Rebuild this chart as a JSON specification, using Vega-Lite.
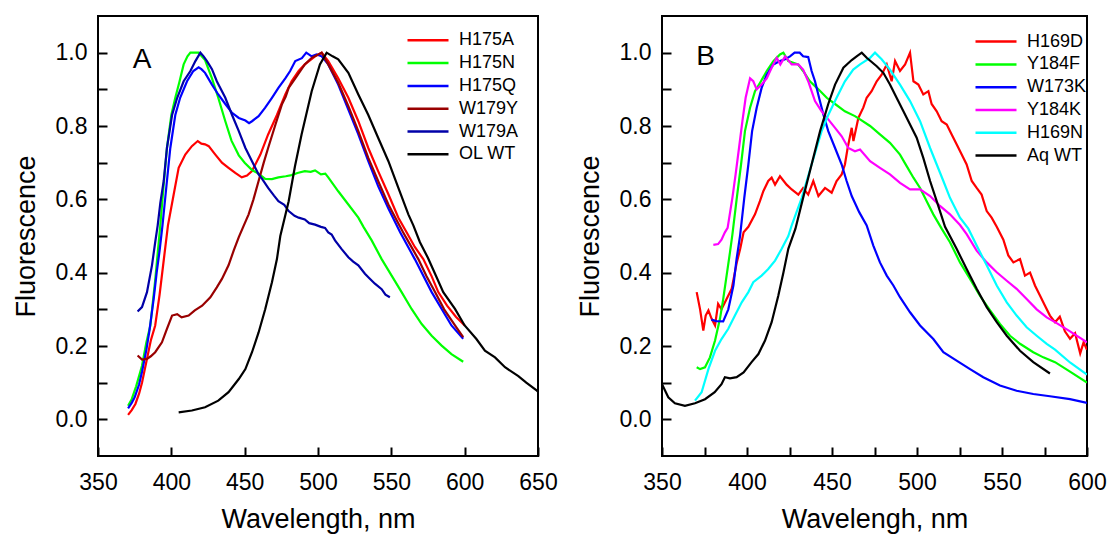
{
"$schema":"https://vega.github.io/schema/vega-lite/v6.json",
"background":"white",
"padding":{"left":11,"top":15,"right":2,"bottom":2},
"config":{
 "font":"Liberation Sans",
 "view":{"stroke":"black","strokeWidth":2},
 "axis":{"domain":false,"ticks":true,"tickSize":-9,"tickColor":"#000000","tickOpacity":1,"tickWidth":2,"grid":false,"labelFlush":false,"labelOverlap":false,"labelFont":"Liberation Sans","labelFontSize":23,"labelColor":"black","titleFont":"Liberation Sans","titleFontSize":27,"titleFontWeight":"normal","titleColor":"black"},
 "axisX":{"labelPadding":24,"titlePadding":12},
 "axisY":{"labelPadding":20,"titlePadding":15},
 "legend":{"title":null,"orient":"none","symbolType":"stroke","symbolSize":1681,"symbolStrokeWidth":2.5,"clipHeight":18,"labelFont":"Liberation Sans","labelFontSize":18,"labelColor":"black","rowPadding":4.8,"labelOffset":9,"padding":0}
},
"datasets":{
"A":[
{"s":"H175A","w":370.5,"f":0.012},{"s":"H175A","w":373,"f":0.025},{"s":"H175A","w":375.5,"f":0.042},{"s":"H175A","w":378,"f":0.07},{"s":"H175A","w":380,"f":0.10},{"s":"H175A","w":383.4,"f":0.165},{"s":"H175A","w":386,"f":0.215},{"s":"H175A","w":389,"f":0.256},{"s":"H175A","w":392,"f":0.34},{"s":"H175A","w":395,"f":0.44},{"s":"H175A","w":397.7,"f":0.529},{"s":"H175A","w":401.6,"f":0.613},{"s":"H175A","w":405,"f":0.686},{"s":"H175A","w":409.5,"f":0.722},{"s":"H175A","w":414,"f":0.745},{"s":"H175A","w":418,"f":0.759},{"s":"H175A","w":420.5,"f":0.752},{"s":"H175A","w":423,"f":0.75},{"s":"H175A","w":425.5,"f":0.745},{"s":"H175A","w":430,"f":0.722},{"s":"H175A","w":434.5,"f":0.70},{"s":"H175A","w":439,"f":0.686},{"s":"H175A","w":443.6,"f":0.672},{"s":"H175A","w":448,"f":0.66},{"s":"H175A","w":451.6,"f":0.665},{"s":"H175A","w":455,"f":0.677},{"s":"H175A","w":460.7,"f":0.722},{"s":"H175A","w":466,"f":0.777},{"s":"H175A","w":472,"f":0.83},{"s":"H175A","w":477.7,"f":0.886},{"s":"H175A","w":482,"f":0.922},{"s":"H175A","w":486.8,"f":0.95},{"s":"H175A","w":491,"f":0.968},{"s":"H175A","w":498,"f":0.99},{"s":"H175A","w":502.5,"f":1.0},{"s":"H175A","w":507,"f":0.977},{"s":"H175A","w":513.8,"f":0.93},{"s":"H175A","w":520.7,"f":0.877},{"s":"H175A","w":527.5,"f":0.813},{"s":"H175A","w":534.3,"f":0.74},{"s":"H175A","w":541,"f":0.677},{"s":"H175A","w":548,"f":0.614},{"s":"H175A","w":554.8,"f":0.55},{"s":"H175A","w":560.4,"f":0.51},{"s":"H175A","w":566,"f":0.47},{"s":"H175A","w":571.8,"f":0.437},{"s":"H175A","w":577.5,"f":0.39},{"s":"H175A","w":582,"f":0.347},{"s":"H175A","w":588,"f":0.31},{"s":"H175A","w":594,"f":0.28},{"s":"H175A","w":600,"f":0.256},
{"s":"H175N","w":370.5,"f":0.037},{"s":"H175N","w":373,"f":0.055},{"s":"H175N","w":376,"f":0.09},{"s":"H175N","w":380,"f":0.146},{"s":"H175N","w":383,"f":0.21},{"s":"H175N","w":385.7,"f":0.256},{"s":"H175N","w":389,"f":0.38},{"s":"H175N","w":392.5,"f":0.53},{"s":"H175N","w":395,"f":0.65},{"s":"H175N","w":397,"f":0.74},{"s":"H175N","w":400,"f":0.83},{"s":"H175N","w":402.7,"f":0.877},{"s":"H175N","w":405.5,"f":0.92},{"s":"H175N","w":408.4,"f":0.968},{"s":"H175N","w":411,"f":0.99},{"s":"H175N","w":413,"f":1.0},{"s":"H175N","w":418.6,"f":1.0},{"s":"H175N","w":423,"f":0.98},{"s":"H175N","w":427.7,"f":0.93},{"s":"H175N","w":432,"f":0.877},{"s":"H175N","w":436.8,"f":0.813},{"s":"H175N","w":441,"f":0.76},{"s":"H175N","w":446,"f":0.72},{"s":"H175N","w":450,"f":0.70},{"s":"H175N","w":455,"f":0.68},{"s":"H175N","w":459.5,"f":0.67},{"s":"H175N","w":464,"f":0.656},{"s":"H175N","w":468.6,"f":0.655},{"s":"H175N","w":473,"f":0.66},{"s":"H175N","w":478,"f":0.663},{"s":"H175N","w":482,"f":0.666},{"s":"H175N","w":486,"f":0.672},{"s":"H175N","w":491,"f":0.677},{"s":"H175N","w":495,"f":0.675},{"s":"H175N","w":498,"f":0.679},{"s":"H175N","w":502,"f":0.668},{"s":"H175N","w":505,"f":0.67},{"s":"H175N","w":507,"f":0.66},{"s":"H175N","w":513.8,"f":0.622},{"s":"H175N","w":520.7,"f":0.586},{"s":"H175N","w":527.5,"f":0.55},{"s":"H175N","w":531,"f":0.525},{"s":"H175N","w":536.6,"f":0.488},{"s":"H175N","w":543.4,"f":0.437},{"s":"H175N","w":550.2,"f":0.392},{"s":"H175N","w":557,"f":0.347},{"s":"H175N","w":563.8,"f":0.301},{"s":"H175N","w":570.7,"f":0.26},{"s":"H175N","w":577.5,"f":0.228},{"s":"H175N","w":584.3,"f":0.201},{"s":"H175N","w":591,"f":0.178},{"s":"H175N","w":599,"f":0.157},
{"s":"H175Q","w":370.5,"f":0.03},{"s":"H175Q","w":373,"f":0.045},{"s":"H175Q","w":375,"f":0.06},{"s":"H175Q","w":378,"f":0.095},{"s":"H175Q","w":380,"f":0.13},{"s":"H175Q","w":383,"f":0.19},{"s":"H175Q","w":385,"f":0.24},{"s":"H175Q","w":388,"f":0.33},{"s":"H175Q","w":390,"f":0.40},{"s":"H175Q","w":392,"f":0.46},{"s":"H175Q","w":394,"f":0.53},{"s":"H175Q","w":397,"f":0.65},{"s":"H175Q","w":399.3,"f":0.74},{"s":"H175Q","w":402.7,"f":0.83},{"s":"H175Q","w":406,"f":0.877},{"s":"H175Q","w":410.7,"f":0.922},{"s":"H175Q","w":415,"f":0.95},{"s":"H175Q","w":418.6,"f":0.96},{"s":"H175Q","w":420.5,"f":0.955},{"s":"H175Q","w":423,"f":0.945},{"s":"H175Q","w":427.7,"f":0.913},{"s":"H175Q","w":432,"f":0.886},{"s":"H175Q","w":436.8,"f":0.86},{"s":"H175Q","w":441.4,"f":0.836},{"s":"H175Q","w":446,"f":0.822},{"s":"H175Q","w":450.5,"f":0.815},{"s":"H175Q","w":453,"f":0.808},{"s":"H175Q","w":455,"f":0.813},{"s":"H175Q","w":459.5,"f":0.827},{"s":"H175Q","w":464,"f":0.85},{"s":"H175Q","w":468.6,"f":0.877},{"s":"H175Q","w":473,"f":0.904},{"s":"H175Q","w":477.7,"f":0.93},{"s":"H175Q","w":481,"f":0.95},{"s":"H175Q","w":484.5,"f":0.977},{"s":"H175Q","w":489,"f":0.985},{"s":"H175Q","w":492,"f":1.0},{"s":"H175Q","w":495.7,"f":0.99},{"s":"H175Q","w":499,"f":0.995},{"s":"H175Q","w":502.5,"f":0.99},{"s":"H175Q","w":507,"f":0.968},{"s":"H175Q","w":513.8,"f":0.913},{"s":"H175Q","w":520.7,"f":0.845},{"s":"H175Q","w":527.5,"f":0.777},{"s":"H175Q","w":534.3,"f":0.704},{"s":"H175Q","w":541,"f":0.636},{"s":"H175Q","w":548,"f":0.575},{"s":"H175Q","w":556,"f":0.51},{"s":"H175Q","w":566,"f":0.437},{"s":"H175Q","w":577.5,"f":0.347},{"s":"H175Q","w":591,"f":0.256},{"s":"H175Q","w":599,"f":0.22},
{"s":"W179Y","w":377,"f":0.174},{"s":"W179Y","w":380,"f":0.163},{"s":"W179Y","w":383.4,"f":0.165},{"s":"W179Y","w":386,"f":0.172},{"s":"W179Y","w":389,"f":0.183},{"s":"W179Y","w":393.6,"f":0.21},{"s":"W179Y","w":397,"f":0.247},{"s":"W179Y","w":400.5,"f":0.283},{"s":"W179Y","w":404,"f":0.287},{"s":"W179Y","w":407,"f":0.278},{"s":"W179Y","w":411.8,"f":0.283},{"s":"W179Y","w":416,"f":0.297},{"s":"W179Y","w":421,"f":0.31},{"s":"W179Y","w":426.6,"f":0.333},{"s":"W179Y","w":431,"f":0.36},{"s":"W179Y","w":434.5,"f":0.383},{"s":"W179Y","w":439,"f":0.42},{"s":"W179Y","w":442.5,"f":0.46},{"s":"W179Y","w":446,"f":0.497},{"s":"W179Y","w":449,"f":0.525},{"s":"W179Y","w":452.7,"f":0.559},{"s":"W179Y","w":456,"f":0.60},{"s":"W179Y","w":459.5,"f":0.65},{"s":"W179Y","w":463,"f":0.70},{"s":"W179Y","w":466,"f":0.74},{"s":"W179Y","w":471,"f":0.804},{"s":"W179Y","w":475.5,"f":0.86},{"s":"W179Y","w":478,"f":0.88},{"s":"W179Y","w":480,"f":0.904},{"s":"W179Y","w":484.5,"f":0.93},{"s":"W179Y","w":488,"f":0.95},{"s":"W179Y","w":491,"f":0.968},{"s":"W179Y","w":495.7,"f":0.986},{"s":"W179Y","w":502.5,"f":1.0},{"s":"W179Y","w":507,"f":0.968},{"s":"W179Y","w":513.8,"f":0.918},{"s":"W179Y","w":520.7,"f":0.854},{"s":"W179Y","w":527.5,"f":0.786},{"s":"W179Y","w":534.3,"f":0.713},{"s":"W179Y","w":541,"f":0.65},{"s":"W179Y","w":548,"f":0.586},{"s":"W179Y","w":554,"f":0.54},{"s":"W179Y","w":558,"f":0.51},{"s":"W179Y","w":563,"f":0.475},{"s":"W179Y","w":568.4,"f":0.437},{"s":"W179Y","w":574,"f":0.39},{"s":"W179Y","w":579.8,"f":0.347},{"s":"W179Y","w":586,"f":0.30},{"s":"W179Y","w":593.4,"f":0.256},{"s":"W179Y","w":599,"f":0.224},
{"s":"W179A","w":377,"f":0.294},{"s":"W179A","w":380,"f":0.306},{"s":"W179A","w":383.4,"f":0.347},{"s":"W179A","w":386.8,"f":0.42},{"s":"W179A","w":389,"f":0.483},{"s":"W179A","w":390.7,"f":0.529},{"s":"W179A","w":392.5,"f":0.59},{"s":"W179A","w":394.8,"f":0.65},{"s":"W179A","w":397,"f":0.74},{"s":"W179A","w":400.5,"f":0.83},{"s":"W179A","w":404,"f":0.877},{"s":"W179A","w":408.4,"f":0.922},{"s":"W179A","w":413,"f":0.95},{"s":"W179A","w":416.4,"f":0.977},{"s":"W179A","w":419.8,"f":1.0},{"s":"W179A","w":422,"f":0.99},{"s":"W179A","w":424.3,"f":0.977},{"s":"W179A","w":427.7,"f":0.955},{"s":"W179A","w":431,"f":0.922},{"s":"W179A","w":436.8,"f":0.877},{"s":"W179A","w":441.4,"f":0.83},{"s":"W179A","w":446,"f":0.786},{"s":"W179A","w":450.5,"f":0.74},{"s":"W179A","w":455,"f":0.704},{"s":"W179A","w":459.5,"f":0.668},{"s":"W179A","w":462,"f":0.655},{"s":"W179A","w":466,"f":0.631},{"s":"W179A","w":470,"f":0.61},{"s":"W179A","w":473,"f":0.595},{"s":"W179A","w":477,"f":0.585},{"s":"W179A","w":480,"f":0.568},{"s":"W179A","w":484,"f":0.555},{"s":"W179A","w":486.8,"f":0.55},{"s":"W179A","w":491,"f":0.545},{"s":"W179A","w":494,"f":0.535},{"s":"W179A","w":498,"f":0.531},{"s":"W179A","w":502,"f":0.525},{"s":"W179A","w":504.8,"f":0.522},{"s":"W179A","w":507,"f":0.51},{"s":"W179A","w":509.3,"f":0.504},{"s":"W179A","w":511.6,"f":0.488},{"s":"W179A","w":516,"f":0.465},{"s":"W179A","w":520.7,"f":0.442},{"s":"W179A","w":524,"f":0.43},{"s":"W179A","w":527.5,"f":0.42},{"s":"W179A","w":532,"f":0.397},{"s":"W179A","w":535,"f":0.385},{"s":"W179A","w":538.8,"f":0.37},{"s":"W179A","w":543.4,"f":0.355},{"s":"W179A","w":546,"f":0.34},{"s":"W179A","w":549,"f":0.333},
{"s":"OL WT","w":405,"f":0.019},{"s":"OL WT","w":414,"f":0.024},{"s":"OL WT","w":423,"f":0.033},{"s":"OL WT","w":432,"f":0.051},{"s":"OL WT","w":439,"f":0.074},{"s":"OL WT","w":446,"f":0.11},{"s":"OL WT","w":450.5,"f":0.137},{"s":"OL WT","w":455,"f":0.183},{"s":"OL WT","w":459.5,"f":0.237},{"s":"OL WT","w":464,"f":0.30},{"s":"OL WT","w":468.6,"f":0.374},{"s":"OL WT","w":472,"f":0.437},{"s":"OL WT","w":474.3,"f":0.5},{"s":"OL WT","w":480,"f":0.595},{"s":"OL WT","w":484.3,"f":0.69},{"s":"OL WT","w":488.8,"f":0.777},{"s":"OL WT","w":495.7,"f":0.895},{"s":"OL WT","w":501.3,"f":0.968},{"s":"OL WT","w":505.9,"f":1.0},{"s":"OL WT","w":510,"f":0.99},{"s":"OL WT","w":513.8,"f":0.982},{"s":"OL WT","w":520.7,"f":0.945},{"s":"OL WT","w":527.5,"f":0.886},{"s":"OL WT","w":534.3,"f":0.83},{"s":"OL WT","w":541,"f":0.768},{"s":"OL WT","w":548,"f":0.704},{"s":"OL WT","w":554.8,"f":0.631},{"s":"OL WT","w":561.6,"f":0.559},{"s":"OL WT","w":565,"f":0.529},{"s":"OL WT","w":569.5,"f":0.483},{"s":"OL WT","w":575,"f":0.44},{"s":"OL WT","w":579.8,"f":0.397},{"s":"OL WT","w":585.4,"f":0.347},{"s":"OL WT","w":593.4,"f":0.301},{"s":"OL WT","w":600,"f":0.256},{"s":"OL WT","w":608,"f":0.219},{"s":"OL WT","w":613.8,"f":0.187},{"s":"OL WT","w":620.7,"f":0.169},{"s":"OL WT","w":627.5,"f":0.142},{"s":"OL WT","w":636.6,"f":0.118},{"s":"OL WT","w":642,"f":0.10},{"s":"OL WT","w":648.8,"f":0.08},{"s":"OL WT","w":650,"f":0.075}
],
"B":[
{"s":"H169D","w":370.4,"f":0.347},{"s":"H169D","w":372.4,"f":0.30},{"s":"H169D","w":374.3,"f":0.242},{"s":"H169D","w":375.7,"f":0.283},{"s":"H169D","w":377.3,"f":0.297},{"s":"H169D","w":379.2,"f":0.274},{"s":"H169D","w":381.2,"f":0.256},{"s":"H169D","w":383,"f":0.315},{"s":"H169D","w":385,"f":0.30},{"s":"H169D","w":388,"f":0.328},{"s":"H169D","w":391,"f":0.356},{"s":"H169D","w":394,"f":0.428},{"s":"H169D","w":396,"f":0.465},{"s":"H169D","w":398,"f":0.51},{"s":"H169D","w":400.8,"f":0.525},{"s":"H169D","w":404.7,"f":0.559},{"s":"H169D","w":407.6,"f":0.595},{"s":"H169D","w":409.6,"f":0.622},{"s":"H169D","w":412.5,"f":0.65},{"s":"H169D","w":414.5,"f":0.659},{"s":"H169D","w":416.5,"f":0.64},{"s":"H169D","w":419.4,"f":0.663},{"s":"H169D","w":423.3,"f":0.64},{"s":"H169D","w":426.3,"f":0.627},{"s":"H169D","w":430.2,"f":0.613},{"s":"H169D","w":433,"f":0.631},{"s":"H169D","w":436,"f":0.613},{"s":"H169D","w":439,"f":0.65},{"s":"H169D","w":442,"f":0.609},{"s":"H169D","w":445.9,"f":0.631},{"s":"H169D","w":449.8,"f":0.618},{"s":"H169D","w":452.7,"f":0.65},{"s":"H169D","w":455.7,"f":0.668},{"s":"H169D","w":457.6,"f":0.695},{"s":"H169D","w":459.2,"f":0.74},{"s":"H169D","w":461.6,"f":0.795},{"s":"H169D","w":462.6,"f":0.759},{"s":"H169D","w":465.5,"f":0.822},{"s":"H169D","w":468.4,"f":0.85},{"s":"H169D","w":470.4,"f":0.877},{"s":"H169D","w":473.3,"f":0.895},{"s":"H169D","w":476.3,"f":0.922},{"s":"H169D","w":479.2,"f":0.94},{"s":"H169D","w":482.2,"f":0.968},{"s":"H169D","w":485.1,"f":0.922},{"s":"H169D","w":487.1,"f":0.977},{"s":"H169D","w":490,"f":0.95},{"s":"H169D","w":493,"f":0.968},{"s":"H169D","w":495.9,"f":1.0},{"s":"H169D","w":497.9,"f":0.922},{"s":"H169D","w":500.8,"f":0.913},{"s":"H169D","w":503.7,"f":0.886},{"s":"H169D","w":506.7,"f":0.895},{"s":"H169D","w":508.6,"f":0.86},{"s":"H169D","w":511.6,"f":0.84},{"s":"H169D","w":514.5,"f":0.813},{"s":"H169D","w":517.5,"f":0.804},{"s":"H169D","w":520.4,"f":0.777},{"s":"H169D","w":523.3,"f":0.75},{"s":"H169D","w":526.3,"f":0.722},{"s":"H169D","w":529.2,"f":0.695},{"s":"H169D","w":532.2,"f":0.65},{"s":"H169D","w":535.1,"f":0.631},{"s":"H169D","w":538,"f":0.613},{"s":"H169D","w":541,"f":0.568},{"s":"H169D","w":543.9,"f":0.55},{"s":"H169D","w":546.9,"f":0.525},{"s":"H169D","w":550.8,"f":0.49},{"s":"H169D","w":553.7,"f":0.447},{"s":"H169D","w":556.7,"f":0.428},{"s":"H169D","w":560.6,"f":0.437},{"s":"H169D","w":563.5,"f":0.392},{"s":"H169D","w":566.5,"f":0.40},{"s":"H169D","w":569.4,"f":0.365},{"s":"H169D","w":572.4,"f":0.337},{"s":"H169D","w":575.3,"f":0.31},{"s":"H169D","w":578.2,"f":0.283},{"s":"H169D","w":581.2,"f":0.265},{"s":"H169D","w":584,"f":0.28},{"s":"H169D","w":587,"f":0.24},{"s":"H169D","w":590,"f":0.22},{"s":"H169D","w":593,"f":0.235},{"s":"H169D","w":596,"f":0.18},{"s":"H169D","w":598,"f":0.21},{"s":"H169D","w":600,"f":0.19},
{"s":"Y184F","w":370.4,"f":0.142},{"s":"Y184F","w":372.4,"f":0.137},{"s":"Y184F","w":375.3,"f":0.142},{"s":"Y184F","w":378.2,"f":0.169},{"s":"Y184F","w":381.2,"f":0.215},{"s":"Y184F","w":384.1,"f":0.274},{"s":"Y184F","w":386,"f":0.328},{"s":"Y184F","w":388,"f":0.392},{"s":"Y184F","w":390,"f":0.456},{"s":"Y184F","w":391.4,"f":0.504},{"s":"Y184F","w":394,"f":0.604},{"s":"Y184F","w":396.5,"f":0.695},{"s":"Y184F","w":398.8,"f":0.786},{"s":"Y184F","w":401.8,"f":0.85},{"s":"Y184F","w":404.7,"f":0.895},{"s":"Y184F","w":408.2,"f":0.922},{"s":"Y184F","w":411.6,"f":0.95},{"s":"Y184F","w":415.5,"f":0.977},{"s":"Y184F","w":419.4,"f":0.995},{"s":"Y184F","w":421.4,"f":1.0},{"s":"Y184F","w":424.3,"f":0.977},{"s":"Y184F","w":430,"f":0.968},{"s":"Y184F","w":433,"f":0.95},{"s":"Y184F","w":437,"f":0.922},{"s":"Y184F","w":442,"f":0.9},{"s":"Y184F","w":446.9,"f":0.877},{"s":"Y184F","w":451.8,"f":0.86},{"s":"Y184F","w":457.6,"f":0.84},{"s":"Y184F","w":463.5,"f":0.827},{"s":"Y184F","w":466.5,"f":0.818},{"s":"Y184F","w":472.4,"f":0.8},{"s":"Y184F","w":478.2,"f":0.777},{"s":"Y184F","w":484.1,"f":0.754},{"s":"Y184F","w":490,"f":0.722},{"s":"Y184F","w":494,"f":0.69},{"s":"Y184F","w":497.9,"f":0.659},{"s":"Y184F","w":501.8,"f":0.631},{"s":"Y184F","w":505.7,"f":0.595},{"s":"Y184F","w":509.6,"f":0.559},{"s":"Y184F","w":514.5,"f":0.52},{"s":"Y184F","w":519.4,"f":0.483},{"s":"Y184F","w":525.3,"f":0.428},{"s":"Y184F","w":531.2,"f":0.383},{"s":"Y184F","w":537,"f":0.337},{"s":"Y184F","w":543,"f":0.297},{"s":"Y184F","w":548.8,"f":0.26},{"s":"Y184F","w":554.7,"f":0.228},{"s":"Y184F","w":560.6,"f":0.206},{"s":"Y184F","w":568.4,"f":0.183},{"s":"Y184F","w":574.3,"f":0.169},{"s":"Y184F","w":581.2,"f":0.156},{"s":"Y184F","w":590,"f":0.13},{"s":"Y184F","w":600,"f":0.10},
{"s":"W173K","w":379,"f":0.272},{"s":"W173K","w":382,"f":0.268},{"s":"W173K","w":386,"f":0.267},{"s":"W173K","w":389,"f":0.30},{"s":"W173K","w":392,"f":0.365},{"s":"W173K","w":393.9,"f":0.438},{"s":"W173K","w":395.9,"f":0.50},{"s":"W173K","w":398.4,"f":0.604},{"s":"W173K","w":400.8,"f":0.695},{"s":"W173K","w":403,"f":0.786},{"s":"W173K","w":405.7,"f":0.85},{"s":"W173K","w":408.6,"f":0.904},{"s":"W173K","w":411.6,"f":0.94},{"s":"W173K","w":415.5,"f":0.968},{"s":"W173K","w":419.4,"f":0.977},{"s":"W173K","w":422.4,"f":0.982},{"s":"W173K","w":425.3,"f":0.99},{"s":"W173K","w":428,"f":1.0},{"s":"W173K","w":431,"f":1.0},{"s":"W173K","w":433,"f":0.99},{"s":"W173K","w":436,"f":0.988},{"s":"W173K","w":438,"f":0.95},{"s":"W173K","w":440,"f":0.922},{"s":"W173K","w":442.4,"f":0.877},{"s":"W173K","w":445,"f":0.83},{"s":"W173K","w":447.8,"f":0.786},{"s":"W173K","w":451.8,"f":0.74},{"s":"W173K","w":455.7,"f":0.695},{"s":"W173K","w":458.6,"f":0.65},{"s":"W173K","w":461.6,"f":0.609},{"s":"W173K","w":466,"f":0.565},{"s":"W173K","w":470.4,"f":0.529},{"s":"W173K","w":474.3,"f":0.474},{"s":"W173K","w":478.2,"f":0.428},{"s":"W173K","w":482.2,"f":0.392},{"s":"W173K","w":486.1,"f":0.365},{"s":"W173K","w":490,"f":0.333},{"s":"W173K","w":495.9,"f":0.292},{"s":"W173K","w":501.8,"f":0.256},{"s":"W173K","w":509.6,"f":0.219},{"s":"W173K","w":515.5,"f":0.183},{"s":"W173K","w":523.3,"f":0.16},{"s":"W173K","w":531.2,"f":0.137},{"s":"W173K","w":539,"f":0.115},{"s":"W173K","w":548.8,"f":0.092},{"s":"W173K","w":558.6,"f":0.078},{"s":"W173K","w":568.4,"f":0.069},{"s":"W173K","w":578.2,"f":0.063},{"s":"W173K","w":590,"f":0.055},{"s":"W173K","w":600,"f":0.045},
{"s":"Y184K","w":380.2,"f":0.476},{"s":"Y184K","w":383,"f":0.478},{"s":"Y184K","w":385,"f":0.49},{"s":"Y184K","w":387,"f":0.51},{"s":"Y184K","w":388.6,"f":0.522},{"s":"Y184K","w":391.4,"f":0.604},{"s":"Y184K","w":393.3,"f":0.668},{"s":"Y184K","w":395.3,"f":0.74},{"s":"Y184K","w":397.3,"f":0.813},{"s":"Y184K","w":399.2,"f":0.877},{"s":"Y184K","w":401.8,"f":0.93},{"s":"Y184K","w":403.7,"f":0.922},{"s":"Y184K","w":405.7,"f":0.9},{"s":"Y184K","w":408.6,"f":0.913},{"s":"Y184K","w":411.6,"f":0.93},{"s":"Y184K","w":414.5,"f":0.959},{"s":"Y184K","w":417.5,"f":0.986},{"s":"Y184K","w":419.6,"f":0.968},{"s":"Y184K","w":422.4,"f":0.99},{"s":"Y184K","w":426.3,"f":0.968},{"s":"Y184K","w":430.2,"f":0.968},{"s":"Y184K","w":433,"f":0.954},{"s":"Y184K","w":436,"f":0.922},{"s":"Y184K","w":438,"f":0.895},{"s":"Y184K","w":440,"f":0.868},{"s":"Y184K","w":443.9,"f":0.84},{"s":"Y184K","w":447.8,"f":0.818},{"s":"Y184K","w":451.8,"f":0.795},{"s":"Y184K","w":455.7,"f":0.772},{"s":"Y184K","w":459.6,"f":0.74},{"s":"Y184K","w":463.5,"f":0.731},{"s":"Y184K","w":466.5,"f":0.736},{"s":"Y184K","w":472.4,"f":0.704},{"s":"Y184K","w":478.2,"f":0.686},{"s":"Y184K","w":484.1,"f":0.668},{"s":"Y184K","w":490,"f":0.645},{"s":"Y184K","w":495.9,"f":0.627},{"s":"Y184K","w":501.8,"f":0.627},{"s":"Y184K","w":507.7,"f":0.609},{"s":"Y184K","w":513.5,"f":0.582},{"s":"Y184K","w":519.4,"f":0.559},{"s":"Y184K","w":525.3,"f":0.53},{"s":"Y184K","w":529.2,"f":0.505},{"s":"Y184K","w":535.1,"f":0.46},{"s":"Y184K","w":541,"f":0.428},{"s":"Y184K","w":546.9,"f":0.401},{"s":"Y184K","w":552.8,"f":0.378},{"s":"Y184K","w":558.6,"f":0.356},{"s":"Y184K","w":564.5,"f":0.328},{"s":"Y184K","w":570.4,"f":0.30},{"s":"Y184K","w":576.3,"f":0.278},{"s":"Y184K","w":581.2,"f":0.265},{"s":"Y184K","w":590,"f":0.24},{"s":"Y184K","w":600,"f":0.21},
{"s":"H169N","w":369.4,"f":0.051},{"s":"H169N","w":373.3,"f":0.074},{"s":"H169N","w":377.3,"f":0.137},{"s":"H169N","w":381.2,"f":0.187},{"s":"H169N","w":385,"f":0.219},{"s":"H169N","w":389,"f":0.247},{"s":"H169N","w":392.9,"f":0.283},{"s":"H169N","w":396.9,"f":0.319},{"s":"H169N","w":400.8,"f":0.347},{"s":"H169N","w":403.7,"f":0.374},{"s":"H169N","w":408.6,"f":0.392},{"s":"H169N","w":412.5,"f":0.41},{"s":"H169N","w":416.5,"f":0.433},{"s":"H169N","w":420.4,"f":0.465},{"s":"H169N","w":424.3,"f":0.50},{"s":"H169N","w":426.3,"f":0.529},{"s":"H169N","w":432.2,"f":0.604},{"s":"H169N","w":438,"f":0.695},{"s":"H169N","w":443.9,"f":0.786},{"s":"H169N","w":447.8,"f":0.83},{"s":"H169N","w":452.7,"f":0.877},{"s":"H169N","w":457.6,"f":0.922},{"s":"H169N","w":462.5,"f":0.954},{"s":"H169N","w":466.5,"f":0.968},{"s":"H169N","w":472.4,"f":0.986},{"s":"H169N","w":475.3,"f":1.0},{"s":"H169N","w":479.2,"f":0.982},{"s":"H169N","w":484.1,"f":0.954},{"s":"H169N","w":490,"f":0.913},{"s":"H169N","w":495.9,"f":0.868},{"s":"H169N","w":501.8,"f":0.813},{"s":"H169N","w":507.7,"f":0.74},{"s":"H169N","w":511.6,"f":0.695},{"s":"H169N","w":515.5,"f":0.65},{"s":"H169N","w":519.4,"f":0.604},{"s":"H169N","w":525.3,"f":0.55},{"s":"H169N","w":530.2,"f":0.52},{"s":"H169N","w":535.1,"f":0.474},{"s":"H169N","w":541,"f":0.42},{"s":"H169N","w":546.9,"f":0.365},{"s":"H169N","w":552.8,"f":0.319},{"s":"H169N","w":558.6,"f":0.283},{"s":"H169N","w":564.5,"f":0.251},{"s":"H169N","w":570.4,"f":0.228},{"s":"H169N","w":576.3,"f":0.206},{"s":"H169N","w":581.2,"f":0.19},{"s":"H169N","w":590,"f":0.155},{"s":"H169N","w":600,"f":0.122},
{"s":"Aq WT","w":350,"f":0.096},{"s":"Aq WT","w":353.7,"f":0.06},{"s":"Aq WT","w":357.6,"f":0.044},{"s":"Aq WT","w":363.5,"f":0.037},{"s":"Aq WT","w":369.4,"f":0.044},{"s":"Aq WT","w":375.3,"f":0.055},{"s":"Aq WT","w":381,"f":0.074},{"s":"Aq WT","w":385,"f":0.096},{"s":"Aq WT","w":387,"f":0.115},{"s":"Aq WT","w":390,"f":0.112},{"s":"Aq WT","w":393.9,"f":0.115},{"s":"Aq WT","w":398,"f":0.128},{"s":"Aq WT","w":402.7,"f":0.156},{"s":"Aq WT","w":406.7,"f":0.178},{"s":"Aq WT","w":410.6,"f":0.215},{"s":"Aq WT","w":414.5,"f":0.265},{"s":"Aq WT","w":418.4,"f":0.337},{"s":"Aq WT","w":421.4,"f":0.40},{"s":"Aq WT","w":424.3,"f":0.465},{"s":"Aq WT","w":428.5,"f":0.52},{"s":"Aq WT","w":433,"f":0.604},{"s":"Aq WT","w":438,"f":0.695},{"s":"Aq WT","w":443,"f":0.786},{"s":"Aq WT","w":447.8,"f":0.86},{"s":"Aq WT","w":451.8,"f":0.913},{"s":"Aq WT","w":456.7,"f":0.959},{"s":"Aq WT","w":461.6,"f":0.98},{"s":"Aq WT","w":464.5,"f":0.99},{"s":"Aq WT","w":467.5,"f":1.0},{"s":"Aq WT","w":470.4,"f":0.986},{"s":"Aq WT","w":476.3,"f":0.963},{"s":"Aq WT","w":480.2,"f":0.945},{"s":"Aq WT","w":484.1,"f":0.913},{"s":"Aq WT","w":488,"f":0.877},{"s":"Aq WT","w":492,"f":0.84},{"s":"Aq WT","w":495.9,"f":0.804},{"s":"Aq WT","w":499.8,"f":0.768},{"s":"Aq WT","w":503.7,"f":0.713},{"s":"Aq WT","w":507.7,"f":0.65},{"s":"Aq WT","w":511.6,"f":0.595},{"s":"Aq WT","w":516.5,"f":0.525},{"s":"Aq WT","w":523.3,"f":0.465},{"s":"Aq WT","w":529.2,"f":0.41},{"s":"Aq WT","w":535.1,"f":0.356},{"s":"Aq WT","w":541,"f":0.306},{"s":"Aq WT","w":546.9,"f":0.265},{"s":"Aq WT","w":552.8,"f":0.228},{"s":"Aq WT","w":560.6,"f":0.187},{"s":"Aq WT","w":568.4,"f":0.156},{"s":"Aq WT","w":578.2,"f":0.125}
],
"labA":[{"t":"A"}],
"labB":[{"t":"B"}]
},
"bounds":"flush",
"spacing":124,
"resolve":{"scale":{"color":"independent","x":"independent","y":"independent"},"legend":{"color":"independent"}},
"hconcat":[
{
 "width":440,"height":440,
 "layer":[
  {"data":{"name":"A"},
   "mark":{"type":"line","strokeWidth":2.2,"clip":true},
   "encoding":{
    "x":{"field":"w","type":"quantitative","scale":{"domain":[350,650],"nice":false,"zero":false},"axis":{"title":"Wavelength, nm","values":[350,375,400,425,450,475,500,525,550,575,600,625,650],"labelExpr":"datum.value % 50 === 0 ? datum.label : ''"}},
    "y":{"field":"f","type":"quantitative","scale":{"domain":[-0.1,1.1],"nice":false,"zero":false},"axis":{"title":"Fluorescence","values":[0,0.1,0.2,0.3,0.4,0.5,0.6,0.7,0.8,0.9,1.0],"format":".1f","labelExpr":"round(datum.value*10) % 2 === 0 ? datum.label : ''"}},
    "color":{"field":"s","type":"nominal","scale":{"domain":["H175A","H175N","H175Q","W179Y","W179A","OL WT"],"range":["#ff0000","#00ff00","#0000ff","#990000","#0000a8","#000000"]},"legend":{"legendX":308,"legendY":15.3}}
   }},
  {"data":{"name":"labA"},
   "mark":{"type":"text","fontSize":28,"font":"Liberation Sans","align":"center","baseline":"alphabetic","color":"black"},
   "encoding":{"text":{"field":"t"},"x":{"datum":380},"y":{"datum":0.957}}}
 ]
},
{
 "width":425,"height":440,
 "layer":[
  {"data":{"name":"B"},
   "mark":{"type":"line","strokeWidth":2.2,"clip":true},
   "encoding":{
    "x":{"field":"w","type":"quantitative","scale":{"domain":[350,600],"nice":false,"zero":false},"axis":{"title":"Wavelengh, nm","values":[350,375,400,425,450,475,500,525,550,575,600],"labelExpr":"datum.value % 50 === 0 ? datum.label : ''"}},
    "y":{"field":"f","type":"quantitative","scale":{"domain":[-0.1,1.1],"nice":false,"zero":false},"axis":{"title":"Fluorescence","values":[0,0.1,0.2,0.3,0.4,0.5,0.6,0.7,0.8,0.9,1.0],"format":".1f","labelExpr":"round(datum.value*10) % 2 === 0 ? datum.label : ''"}},
    "color":{"field":"s","type":"nominal","scale":{"domain":["H169D","Y184F","W173K","Y184K","H169N","Aq WT"],"range":["#ff0000","#00ff00","#0000ff","#ff00ff","#00ffff","#000000"]},"legend":{"legendX":312,"legendY":16.6}}
   }},
  {"data":{"name":"labB"},
   "mark":{"type":"text","fontSize":28,"font":"Liberation Sans","align":"center","baseline":"alphabetic","color":"black"},
   "encoding":{"text":{"field":"t"},"x":{"datum":375.6},"y":{"datum":0.966}}}
 ]
}
]
}
